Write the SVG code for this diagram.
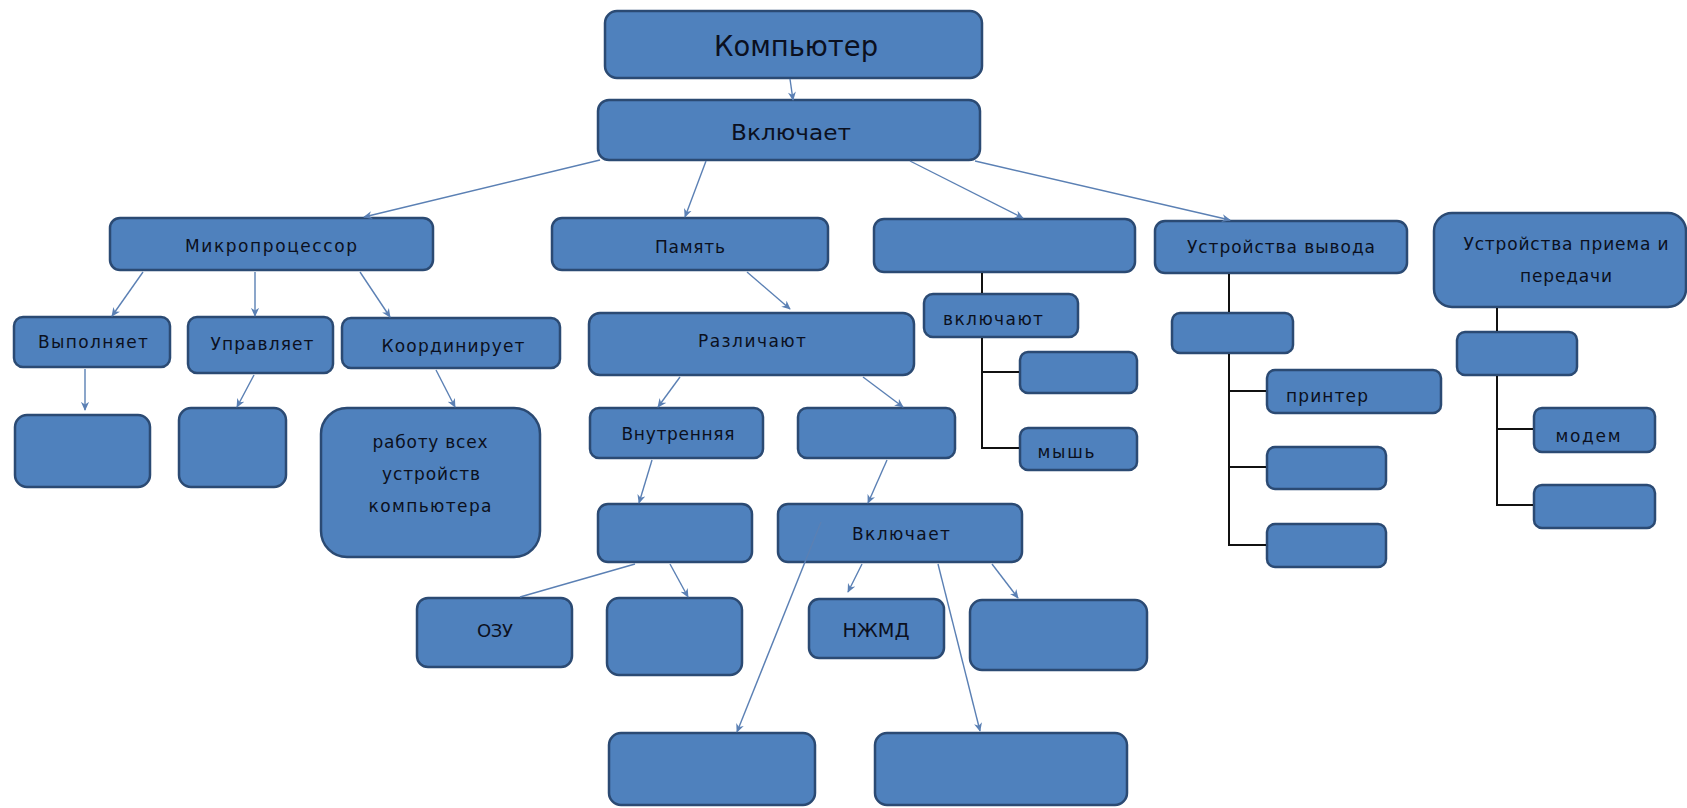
<svg xmlns="http://www.w3.org/2000/svg" width="1687" height="808" viewBox="0 0 1687 808">
<defs>
<marker id="ah" viewBox="0 0 10 10" refX="9" refY="5" markerWidth="9" markerHeight="9" markerUnits="userSpaceOnUse" orient="auto">
<path d="M0,0.5 L10,5 L0,9.5 L3,5 Z" fill="#5b80b4"/>
</marker>
<style>
.b{fill:#4f81bd;stroke:#2b4a73;stroke-width:2.5}
.t{font-family:"DejaVu Sans","Liberation Sans",sans-serif;font-size:17px;fill:#0b1020;text-anchor:middle}
.a{stroke:#5b80b4;stroke-width:1.4;fill:none;marker-end:url(#ah)}
.p{stroke:#5b80b4;stroke-width:1.4;fill:none}
.k{stroke:#111;stroke-width:2;fill:none}
</style>
</defs>
<rect width="1687" height="808" fill="#ffffff"/>

<g id="n-computer"><rect class="b" x="605" y="11" width="377" height="67" rx="12"/><text class="t" x="796" y="56" style="font-size:28px" textLength="164" lengthAdjust="spacingAndGlyphs">Компьютер</text></g>
<g id="n-includes"><rect class="b" x="598" y="100" width="382" height="60" rx="11"/><text class="t" x="791" y="140" style="font-size:22px" textLength="120" lengthAdjust="spacingAndGlyphs">Включает</text></g>

<g id="n-cpu"><rect class="b" x="110" y="218" width="323" height="52" rx="10"/><text class="t" x="271" y="252" textLength="172" lengthAdjust="spacing">Микропроцессор</text></g>
<g id="n-memory"><rect class="b" x="552" y="218" width="276" height="52" rx="10"/><text class="t" x="690" y="253" textLength="70" lengthAdjust="spacing">Память</text></g>
<g id="n-input"><rect class="b" x="874" y="219" width="261" height="53" rx="10"/></g>
<g id="n-output"><rect class="b" x="1155" y="221" width="252" height="52" rx="10"/><text class="t" x="1281" y="253" textLength="188" lengthAdjust="spacing">Устройства вывода</text></g>
<g id="n-comm"><rect class="b" x="1434" y="213" width="252" height="94" rx="18"/><text class="t" x="1566" y="250" textLength="205" lengthAdjust="spacing">Устройства приема и</text><text class="t" x="1566" y="282" textLength="92" lengthAdjust="spacing">передачи</text></g>

<g id="n-exec"><rect class="b" x="14" y="317" width="156" height="50" rx="9"/><text class="t" x="93" y="348" textLength="110" lengthAdjust="spacing">Выполняет</text></g>
<g id="n-ctrl"><rect class="b" x="188" y="317" width="145" height="56" rx="9"/><text class="t" x="262" y="350" textLength="103" lengthAdjust="spacing">Управляет</text></g>
<g id="n-coord"><rect class="b" x="342" y="318" width="218" height="50" rx="9"/><text class="t" x="453" y="352" textLength="143" lengthAdjust="spacing">Координирует</text></g>
<g id="n-exec-c"><rect class="b" x="15" y="415" width="135" height="72" rx="12"/></g>
<g id="n-ctrl-c"><rect class="b" x="179" y="408" width="107" height="79" rx="12"/></g>
<g id="n-coord-c"><rect class="b" x="321" y="408" width="219" height="149" rx="26"/><text class="t" x="430" y="448" textLength="115" lengthAdjust="spacing">работу всех</text><text class="t" x="431" y="480" textLength="98" lengthAdjust="spacing">устройств</text><text class="t" x="430" y="512" textLength="123" lengthAdjust="spacing">компьютера</text></g>

<g id="n-distinguish"><rect class="b" x="589" y="313" width="325" height="62" rx="11"/><text class="t" x="752" y="347" textLength="108" lengthAdjust="spacing">Различают</text></g>
<g id="n-internal"><rect class="b" x="590" y="408" width="173" height="50" rx="9"/><text class="t" x="678" y="440" textLength="113" lengthAdjust="spacing">Внутренняя</text></g>
<g id="n-external"><rect class="b" x="798" y="408" width="157" height="50" rx="9"/></g>
<g id="n-internal-c"><rect class="b" x="598" y="504" width="154" height="58" rx="10"/></g>
<g id="n-includes2"><rect class="b" x="778" y="504" width="244" height="58" rx="10"/><text class="t" x="901" y="540" textLength="98" lengthAdjust="spacing">Включает</text></g>
<g id="n-ozu"><rect class="b" x="417" y="598" width="155" height="69" rx="11"/><text class="t" x="495" y="637" style="font-size:18px" textLength="36" lengthAdjust="spacing">ОЗУ</text></g>
<g id="n-int2"><rect class="b" x="607" y="598" width="135" height="77" rx="12"/></g>
<g id="n-hdd"><rect class="b" x="809" y="599" width="135" height="59" rx="10"/><text class="t" x="876" y="637" style="font-size:19px" textLength="67" lengthAdjust="spacingAndGlyphs">НЖМД</text></g>
<g id="n-ext3"><rect class="b" x="970" y="600" width="177" height="70" rx="12"/></g>
<g id="n-ext1"><rect class="b" x="609" y="733" width="206" height="72" rx="12"/></g>
<g id="n-ext2"><rect class="b" x="875" y="733" width="252" height="72" rx="12"/></g>

<g id="n-in-inc"><rect class="b" x="924" y="294" width="154" height="43" rx="9"/><text class="t" x="993" y="325" textLength="100" lengthAdjust="spacing">включают</text></g>
<g id="n-in-1"><rect class="b" x="1020" y="352" width="117" height="41" rx="8"/></g>
<g id="n-mouse"><rect class="b" x="1020" y="428" width="117" height="42" rx="8"/><text class="t" x="1066" y="458" textLength="57" lengthAdjust="spacing">мышь</text></g>

<g id="n-out-c"><rect class="b" x="1172" y="313" width="121" height="40" rx="8"/></g>
<g id="n-printer"><rect class="b" x="1267" y="370" width="174" height="43" rx="8"/><text class="t" x="1327" y="402" textLength="82" lengthAdjust="spacing">принтер</text></g>
<g id="n-out-2"><rect class="b" x="1267" y="447" width="119" height="42" rx="8"/></g>
<g id="n-out-3"><rect class="b" x="1267" y="524" width="119" height="43" rx="8"/></g>

<g id="n-comm-c"><rect class="b" x="1457" y="332" width="120" height="43" rx="8"/></g>
<g id="n-modem"><rect class="b" x="1534" y="408" width="121" height="44" rx="8"/><text class="t" x="1588" y="442" textLength="65" lengthAdjust="spacing">модем</text></g>
<g id="n-comm-2"><rect class="b" x="1534" y="485" width="121" height="43" rx="8"/></g>

<g id="connectors">
<line class="a" x1="790" y1="79" x2="793" y2="100"/>
<line class="a" x1="600" y1="160" x2="364" y2="217"/>
<line class="a" x1="706" y1="161" x2="685" y2="217"/>
<line class="a" x1="910" y1="161" x2="1023" y2="218"/>
<line class="a" x1="975" y1="161" x2="1230" y2="220"/>
<line class="a" x1="143" y1="272" x2="112" y2="316"/>
<line class="a" x1="255" y1="272" x2="255" y2="316"/>
<line class="a" x1="360" y1="272" x2="390" y2="317"/>
<line class="a" x1="85" y1="369" x2="85" y2="410"/>
<line class="a" x1="254" y1="375" x2="237" y2="407"/>
<line class="a" x1="436" y1="370" x2="455" y2="407"/>
<line class="a" x1="747" y1="272" x2="790" y2="309"/>
<line class="a" x1="680" y1="377" x2="658" y2="407"/>
<line class="a" x1="863" y1="377" x2="903" y2="407"/>
<line class="a" x1="652" y1="460" x2="639" y2="503"/>
<line class="a" x1="887" y1="460" x2="868" y2="503"/>
<line class="p" x1="635" y1="564" x2="520" y2="597"/>
<line class="a" x1="670" y1="564" x2="688" y2="597"/>
<line class="a" x1="821" y1="522" x2="737" y2="732"/>
<line class="a" x1="862" y1="564" x2="848" y2="592"/>
<line class="a" x1="992" y1="564" x2="1018" y2="598"/>
<line class="a" x1="938" y1="564" x2="980" y2="731"/>
<polyline class="k" points="982,273 982,293"/>
<polyline class="k" points="982,338 982,448 1019,448"/>
<line class="k" x1="982" y1="372" x2="1019" y2="372"/>
<polyline class="k" points="1229,274 1229,312"/>
<polyline class="k" points="1229,354 1229,545 1266,545"/>
<line class="k" x1="1229" y1="391" x2="1266" y2="391"/>
<line class="k" x1="1229" y1="467" x2="1266" y2="467"/>
<polyline class="k" points="1497,308 1497,331"/>
<polyline class="k" points="1497,376 1497,505 1533,505"/>
<line class="k" x1="1497" y1="429" x2="1533" y2="429"/>
</g>
</svg>
